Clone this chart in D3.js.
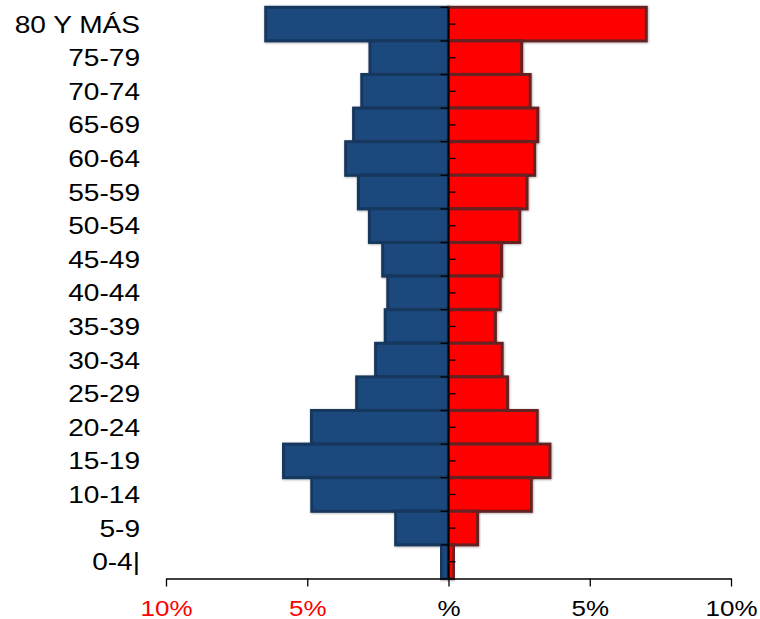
<!DOCTYPE html>
<html>
<head>
<meta charset="utf-8">
<script src="https://cdn.jsdelivr.net/npm/d3@7"></script>
<style>
  html, body { margin: 0; padding: 0; background: #fff; }
  svg { display: block; font-family: "Liberation Sans", Arial, sans-serif; }
</style>
</head>
<body>
<svg id="chart" width="760" height="619"></svg>
<script>
// Age groups, oldest at the top
const ageGroups = ["80 Y MÁS", "75-79", "70-74", "65-69", "60-64", "55-59", "50-54",
  "45-49", "40-44", "35-39", "30-34", "25-29", "20-24", "15-19", "10-14", "5-9", "0-4|"];

// Share of total population (%) per age group
const males   = [6.47, 2.78, 3.07, 3.36, 3.64, 3.19, 2.80, 2.33, 2.15, 2.24, 2.58, 3.25, 4.85, 5.84, 4.84, 1.87, 0.27];
const females = [7.00, 2.59, 2.89, 3.16, 3.05, 2.78, 2.52, 1.88, 1.83, 1.66, 1.90, 2.09, 3.14, 3.59, 2.93, 1.03, 0.19];

// Bottom axis ticks and their labels
const tickValues = [-10, -5, 0, 5, 10];
const tickLabels = ["10%", "5%", "%", "5%", "10%"];

const svg = d3.select("#chart");

const x = d3.scaleLinear().domain([-10, 10]).range([166, 731]);
const y = d3.scaleBand().domain(ageGroups).range([7.3, 578.5]).paddingInner(0).paddingOuter(0);
const x0 = x(0);
const axisY = 578.5;
const stretch = 1.18;

const defs = svg.append("defs");
const f = defs.append("filter").attr("id", "soft").attr("x", "-10%").attr("y", "-20%")
  .attr("width", "120%").attr("height", "140%");
f.append("feDropShadow").attr("dx", 0.6).attr("dy", 0.6).attr("stdDeviation", 0.8)
  .attr("flood-color", "#000").attr("flood-opacity", 0.35);

const rows = ageGroups.map((g, i) => ({ g, m: males[i], f: females[i] }));

// Male bars (left)
svg.append("g").selectAll("rect").data(rows).join("rect")
  .attr("x", d => x(-d.m))
  .attr("y", d => y(d.g))
  .attr("width", d => x0 - x(-d.m))
  .attr("height", y.bandwidth())
  .attr("fill", "#1f497d")
  .attr("stroke", "#17375e")
  .attr("stroke-width", 3)
  .attr("filter", "url(#soft)");

// Female bars (right)
svg.append("g").selectAll("rect").data(rows).join("rect")
  .attr("x", x0)
  .attr("y", d => y(d.g))
  .attr("width", d => x(d.f) - x0)
  .attr("height", y.bandwidth())
  .attr("fill", "#ff0000")
  .attr("stroke", "#662222")
  .attr("stroke-width", 3)
  .attr("filter", "url(#soft)");

// Bottom value axis
const xAxis = d3.axisBottom(x)
  .tickValues(tickValues)
  .tickSize(8)
  .tickSizeOuter(0)
  .tickFormat((d, i) => tickLabels[i]);

const gx = svg.append("g").attr("transform", `translate(0,${axisY})`).call(xAxis);
gx.select(".domain").attr("stroke", "#000").attr("stroke-width", 1.3);
gx.selectAll(".tick line").attr("stroke", "#000").attr("stroke-width", 1.3);
gx.selectAll(".tick text")
  .attr("y", 0).attr("dy", 0)
  .attr("transform", `translate(0,37) scale(${stretch},1)`)
  .attr("font-size", 22)
  .attr("font-family", "Liberation Sans, Arial, sans-serif")
  .attr("fill", d => d < 0 ? "#ff0000" : "#000");

// Central vertical axis with its ticks
const center = svg.append("g");
center.append("line")
  .attr("x1", x0).attr("x2", x0)
  .attr("y1", y.range()[0]).attr("y2", axisY)
  .attr("stroke", "#000").attr("stroke-width", 2);
center.selectAll("line.left").data(ageGroups).join("line")
  .attr("class", "left")
  .attr("x1", x0 - 8).attr("x2", x0)
  .attr("y1", d => y(d)).attr("y2", d => y(d))
  .attr("stroke", "#000").attr("stroke-width", 1.3);
center.selectAll("line.right").data(ageGroups).join("line")
  .attr("class", "right")
  .attr("x1", x0).attr("x2", x0 + 7)
  .attr("y1", d => y(d) + y.bandwidth() / 2).attr("y2", d => y(d) + y.bandwidth() / 2)
  .attr("stroke", "#000").attr("stroke-width", 1.3);

// Age group labels
svg.append("g").selectAll("text").data(ageGroups).join("text")
  .attr("transform", d => `translate(140,${y(d) + y.bandwidth() / 2 + 8.5}) scale(${stretch},1)`)
  .attr("text-anchor", "end")
  .attr("font-size", 23.8)
  .attr("fill", "#000")
  .text(d => d);
</script>
</body>
</html>
